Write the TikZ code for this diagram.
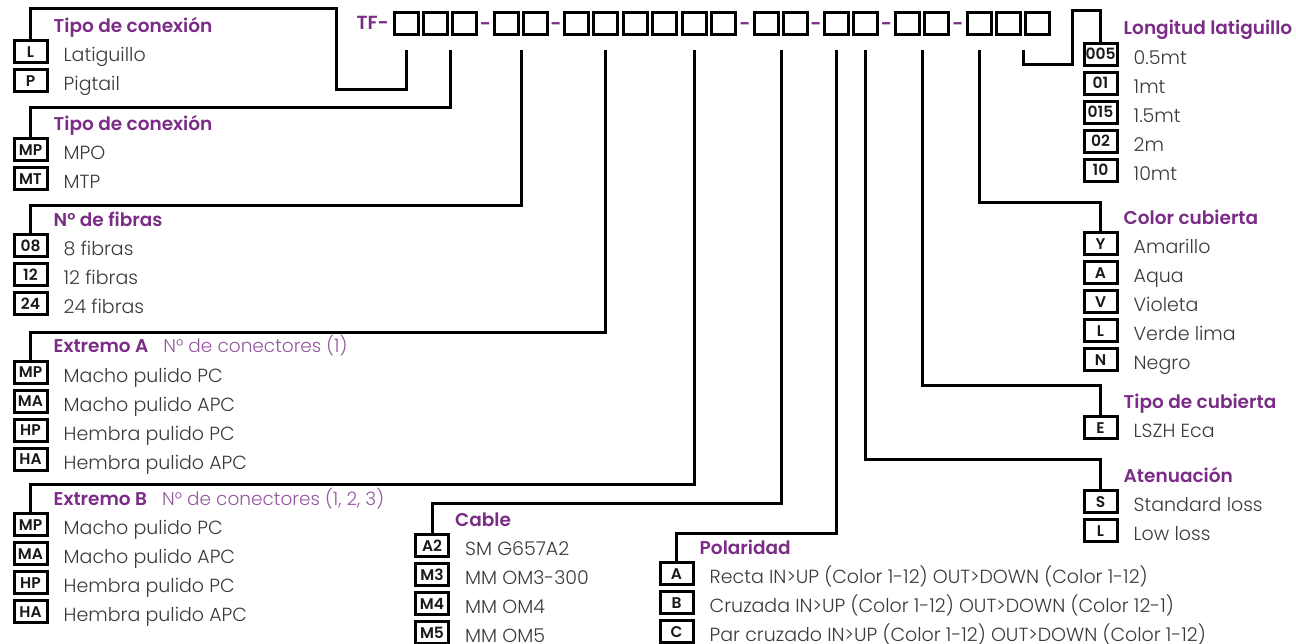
\documentclass[tikz,border=0pt]{standalone}
\usepackage{fontspec}
\IfFontExistsTF{Poppins Light}
  {\IfFontExistsTF{Poppins SemiBold}
     {\setmainfont{Poppins Light}[BoldFont={Poppins SemiBold}]}
     {\setmainfont{Poppins Light}[BoldFont={Poppins}]}}
  {\setmainfont{Poppins}}
\usetikzlibrary{positioning, calc}
\definecolor{tfPurple}{HTML}{7B2C86}
\definecolor{tfLila}{HTML}{9558A0}
\definecolor{tfText}{HTML}{3A3A3A}
\tikzset{
  conn/.style     = {line width=3pt, black},
  codebox/.style  = {draw, line width=3pt, minimum width=24pt, minimum height=22pt, inner sep=0pt},
  optbox/.style   = {draw, line width=3pt, minimum width=33pt, minimum height=22pt, inner sep=0pt,
                     text height=11pt, text depth=0pt, text=black!90,
                     font=\fontsize{15.5}{17}\selectfont\bfseries},
  opttxt/.style   = {inner sep=0pt, anchor=base west, text=tfText, font=\fontsize{19}{22}\selectfont},
  hdr/.style      = {inner sep=0pt, anchor=base west, text=tfPurple, font=\fontsize{18.5}{22}\selectfont\bfseries},
  dashlbl/.style  = {inner sep=0pt, text=tfPurple, font=\fontsize{19}{22}\selectfont\bfseries},
}

\begin{document}
\begin{tikzpicture}[x=1pt, y=-1pt]
\useasboundingbox (0,0) rectangle (1296,643);
\newcommand{\grp}[5]{% name, box x, first box y, header, code/label list
  \foreach \cd/\lab [count=\i] in {#5} {
    \node[optbox] (#1\i) at (#2, {#3+29*(\i-1)}) {\cd};
    \node[opttxt] (#1t\i) at ([xshift=15pt, yshift=-10pt]#1\i.east) {\lab};
  }
  \node[hdr] (#1h) at ([xshift=5pt, yshift=7pt]#11.north east) {#4};}

% code boxes
\foreach \n/\x in {1/393, 2/422, 3/451, 4/493, 5/522, 6/563, 7/592, 8/622, 9/651, 10/681,
                   11/710, 12/753, 13/782, 14/823, 15/852, 16/894, 17/923, 18/966, 19/995, 20/1024}
  \node[codebox] (k\n) at (\x+13.5, 23.5) {};
\foreach \a/\b [count=\j] in {3/4, 5/6, 11/12, 13/14, 15/16, 17/18}
  \node[dashlbl, yshift=-3pt] (d\j) at ($(k\a.east)!.5!(k\b.west)$) {-};
\node[dashlbl, left=4pt of k1, yshift=1pt] (tf) {TF-};

\coordinate (s1) at ($(k1.south)+(0,14)$);
\coordinate (s2) at ($(k2.south)!.5!(k3.south)+(0,14)$);
\coordinate (s3) at ($(k4.south)!.5!(k5.south)+(0,14)$);
\coordinate (s4) at ($(k7.south)+(0,14)$);
\coordinate (s5) at ($(k10.south)+(0,14)$);
\coordinate (s6) at ($(k12.south)!.5!(k13.south)+(0,14)$);
\coordinate (s7) at ($(k14.south)+(0,14)$);
\coordinate (s8) at ($(k15.south)+(0,14)$);
\coordinate (s9) at ($(k16.south)!.5!(k17.south)+(0,14)$);
\coordinate (s10) at ($(k18.south)+(0,14)$);
\coordinate (s11) at ($(k19.south)!.5!(k20.south)+(0,14)$);

% option lists
\grp{tc}{30.5}{51.5}{Tipo de conexión}{L/Latiguillo, P/Pigtail}
\grp{mc}{30.5}{149.5}{Tipo de conexión}{MP/MPO, MT/MTP}
\grp{fb}{30.5}{245.5}{N° de fibras}{08/8 fibras, 12/12 fibras, 24/24 fibras}
\grp{ea}{30.5}{372}{Extremo A\hspace{15pt}{\mdseries\color{tfLila}N° de conectores (1)}}
  {MP/Macho pulido PC, MA/Macho pulido APC, HP/Hembra pulido PC, HA/Hembra pulido APC}
\grp{eb}{30.5}{524.5}{Extremo B\hspace{15pt}{\mdseries\color{tfLila}N° de conectores (1, 2, 3)}}
  {MP/Macho pulido PC, MA/Macho pulido APC, HP/Hembra pulido PC, HA/Hembra pulido APC}
\grp{cb}{432}{545.5}{Cable}{A2/SM G657A2, M3/MM OM3-300, M4/MM OM4, M5/MM OM5}
\grp{pl}{676.5}{573.5}{Polaridad}{A/Recta IN>UP (Color 1-12) OUT>DOWN (Color 1-12),
  B/Cruzada IN>UP (Color 1-12) OUT>DOWN (Color 12-1), C/Par cruzado IN>UP (Color 1-12) OUT>DOWN (Color 1-12)}
\grp{lg}{1100.5}{54}{Longitud latiguillo}{005/0.5mt, 01/1mt, 015/1.5mt, 02/2m, 10/10mt}
\grp{cc}{1100.5}{243.5}{Color cubierta}{Y/Amarillo, A/Aqua, V/Violeta, L/Verde lima, N/Negro}
\grp{tp}{1100.5}{427.5}{Tipo de cubierta}{E/LSZH Eca}
\grp{at}{1100.5}{501.5}{Atenuación}{S/Standard loss, L/Low loss}

% connectors
\draw[conn] (s1) -- ++(0,39.5) -| (336,8.5) -| (tc1.north);
\draw[conn] (s2) -- ++(0,57.5) -| (mc1.north);
\draw[conn] (s3) -- ++(0,155.5) -| (fb1.north);
\draw[conn] (s4) -- ++(0,282.5) -| (ea1.north);
\draw[conn] (s5) -- ++(0,434.5) -| (eb1.north);
\draw[conn] (s6) -- ++(0,453.5) -| (cb1.north);
\draw[conn] (s7) -- ++(0,483) -| (pl1.north);
\draw[conn] (s8) -- ++(0,409.5) -| (at1.north);
\draw[conn] (s9) -- ++(0,335.5) -| (tp1.north);
\draw[conn] (s10) -- ++(0,152) -| (cc1.north);
\draw[conn] (s11) -- ++(0,14.5) -| (1072,10) -| (lg1.north);
\end{tikzpicture}
\end{document}
